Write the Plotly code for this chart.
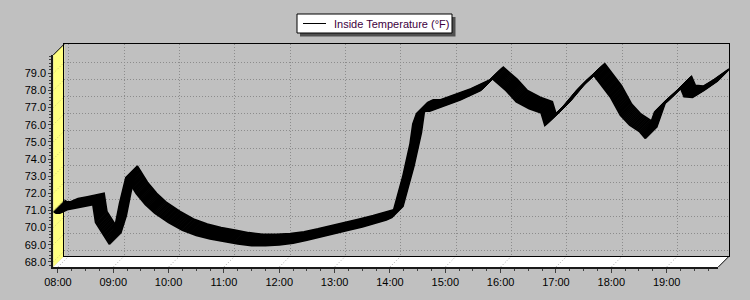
import plotly.graph_objects as go

# ---------------- data ----------------
day = "2024-01-01 "
times = ["07:55", "07:58", "08:02", "08:10", "08:20", "08:30", "08:38", "08:41", "08:56", "09:02",
         "09:07", "09:14", "09:25", "09:35", "09:45", "10:00", "10:15", "10:30", "10:45", "11:00",
         "11:15", "11:30", "11:45", "12:00", "12:15", "12:30", "12:45", "13:00", "13:15", "13:30",
         "13:45", "13:56", "14:02", "14:08", "14:14", "14:22", "14:25", "14:29", "14:35", "14:43",
         "15:01", "15:16", "15:38", "15:51", "16:06", "16:17", "16:31", "16:44", "16:48", "17:05",
         "17:22", "17:41", "17:59", "18:10", "18:20", "18:31", "18:37", "18:47", "19:00", "19:15",
         "19:19", "19:28", "19:40", "19:56"]
temps = [70.95, 70.85, 70.85, 71.05, 71.15, 71.25, 71.35, 70.30, 69.03, 70.05,
         71.40, 72.95, 72.00, 71.35, 70.85, 70.30, 69.85, 69.55, 69.35, 69.20,
         69.05, 68.95, 68.95, 69.00, 69.10, 69.27, 69.45, 69.65, 69.85, 70.05,
         70.30, 70.45, 70.60, 71.80, 72.96, 74.90, 76.05, 76.65, 76.80, 76.80,
         77.15, 77.45, 78.00, 78.70, 78.00, 77.35, 76.95, 76.70, 75.98, 76.85,
         77.95, 78.90, 77.63, 76.56, 75.98, 75.59, 75.20, 76.73, 77.35, 78.16,
         77.65, 77.60, 78.00, 78.60]
x_tick_labels = ["08:00", "09:00", "10:00", "11:00", "12:00", "13:00",
                 "14:00", "15:00", "16:00", "17:00", "18:00", "19:00"]
y_tick_values = [68, 69, 70, 71, 72, 73, 74, 75, 76, 77, 78, 79]
series_name = "Inside Temperature (°F)"

# ---------------- layout geometry ----------------
W, H = 750, 300
F_LEFT, F_RIGHT, F_TOP, F_BOTTOM = 53.3, 718.3, 55.0, 267.0   # front plane (px)
DEPTH = 11                                                    # 3D depth (px)
BG = "#C0C0C0"
FONT = dict(family="Liberation Sans, Arial, sans-serif", size=11, color="black")
LEG_L, LEG_R, LEG_T, LEG_B = 297, 452, 14, 33                 # legend box (px)

X = [day + t for t in times]
x_range = [X[0], X[-1]]
y_range = [67.7, 80.07]


def px(x):
    return x / W


def py(y):
    return 1 - y / H


def domains(k):
    return ([px(F_LEFT + k), px(F_RIGHT + k)], [py(F_BOTTOM - k), py(F_TOP - k)])


fig = go.Figure()
layout = dict(
    width=W, height=H, autosize=False,
    margin=dict(l=0, r=0, t=0, b=0, pad=0),
    paper_bgcolor=BG, plot_bgcolor="rgba(0,0,0,0)",
    font=FONT, showlegend=False,
)

# ribbon copies from back (k=DEPTH, subplot 1 carries the back-wall grid) to front (k=0)
ks = list(range(DEPTH, -1, -1))
n_front = len(ks)
for i, k in enumerate(ks):
    n = i + 1
    sx = "" if n == 1 else str(n)
    dx, dy = domains(k)
    xa = dict(type="date", range=x_range, domain=dx, anchor="y" + sx,
              showgrid=False, zeroline=False, automargin=False)
    ya = dict(range=y_range, domain=dy, anchor="x" + sx,
              showgrid=False, zeroline=False, automargin=False)
    if n == 1:   # back wall: dotted grid + frame
        xa.update(showticklabels=False, ticks="", showgrid=True,
                  gridcolor="#8C8C8C", griddash="1px,2px", gridwidth=1,
                  tickmode="array", tickvals=[day + t for t in x_tick_labels],
                  showline=True, mirror=True, linecolor="black", linewidth=1)
        ya.update(showticklabels=False, ticks="", showgrid=True,
                  gridcolor="#8C8C8C", griddash="1px,2px", gridwidth=1,
                  tickmode="array", tickvals=y_tick_values,
                  showline=True, mirror=True, linecolor="black", linewidth=1)
    elif n == n_front:   # front plane: axes, ticks, labels
        xa.update(showline=True, linecolor="#1A1A1A", linewidth=2,
                  ticks="outside", ticklen=4, tickwidth=1, tickcolor="#404040",
                  tickmode="array", tickvals=[day + t for t in x_tick_labels],
                  ticktext=x_tick_labels, tickfont=FONT,
                  minor=dict(ticks="outside", ticklen=2, tickcolor="#404040",
                             tickmode="linear", tick0=day + "08:00",
                             dtick=15 * 60 * 1000, showgrid=False))
        ya.update(showline=True, linecolor="#1A1A1A", linewidth=2,
                  ticks="outside", ticklen=3, tickwidth=1, tickcolor="#404040",
                  tickmode="array", tickvals=y_tick_values,
                  ticktext=["%.1f" % v for v in y_tick_values], tickfont=FONT,
                  minor=dict(ticks="outside", ticklen=2, tickcolor="#404040",
                             tickmode="linear", tick0=68, dtick=0.2, showgrid=False))
    else:
        xa.update(visible=False)
        ya.update(visible=False)
    layout["xaxis" + sx] = xa
    layout["yaxis" + sx] = ya
    fig.add_trace(go.Scatter(
        x=X, y=temps, mode="lines", name=series_name,
        line=dict(color="black", width=2),
        xaxis="x" + sx, yaxis="y" + sx,
        showlegend=False, hoverinfo="skip"))

FRONT_X = "x%d" % n_front
FRONT_Y = "y%d" % n_front

shapes = []
# left (yellow) wall
shapes.append(dict(type="path", xref="paper", yref="paper", layer="below",
                   path="M %f %f L %f %f L %f %f L %f %f Z" % (
                       px(F_LEFT), py(F_BOTTOM), px(F_LEFT), py(F_TOP),
                       px(F_LEFT + DEPTH), py(F_TOP - DEPTH),
                       px(F_LEFT + DEPTH), py(F_BOTTOM - DEPTH)),
                   fillcolor="#FFFF80", line=dict(width=0)))
# floor (white)
shapes.append(dict(type="path", xref="paper", yref="paper", layer="below",
                   path="M %f %f L %f %f L %f %f L %f %f Z" % (
                       px(F_LEFT), py(F_BOTTOM), px(F_RIGHT), py(F_BOTTOM),
                       px(F_RIGHT + DEPTH), py(F_BOTTOM - DEPTH),
                       px(F_LEFT + DEPTH), py(F_BOTTOM - DEPTH)),
                   fillcolor="white", line=dict(width=0)))
# floor diagonals at hour ticks
for t in x_tick_labels:
    shapes.append(dict(type="line", xref=FRONT_X, xsizemode="pixel", xanchor=day + t,
                       x0=0, x1=DEPTH, yref="paper", y0=py(F_BOTTOM), y1=py(F_BOTTOM - DEPTH),
                       layer="below", line=dict(color="#A8A8A8", width=1, dash="1px,2px")))
# wall diagonals at value ticks
for v in y_tick_values:
    shapes.append(dict(type="line", xref="paper", x0=px(F_LEFT), x1=px(F_LEFT + DEPTH),
                       yref=FRONT_Y, ysizemode="pixel", yanchor=v, y0=0, y1=DEPTH,
                       layer="below", line=dict(color="#C8C870", width=1, dash="1px,2px")))
# black edges
shapes.append(dict(type="line", xref="paper", yref="paper",
                   x0=px(F_LEFT), y0=py(F_TOP), x1=px(F_LEFT + DEPTH), y1=py(F_TOP - DEPTH),
                   line=dict(color="black", width=1)))
shapes.append(dict(type="line", xref="paper", yref="paper",
                   x0=px(F_RIGHT), y0=py(F_BOTTOM), x1=px(F_RIGHT + DEPTH), y1=py(F_BOTTOM - DEPTH),
                   line=dict(color="black", width=1)))
# legend: shadow, box, line sample
shapes.append(dict(type="rect", xref="paper", yref="paper",
                   x0=px(LEG_L + 3), x1=px(LEG_R + 3.5), y0=py(LEG_B + 3.5), y1=py(LEG_T + 3),
                   fillcolor="#505050", line=dict(width=0), layer="above"))
shapes.append(dict(type="rect", xref="paper", yref="paper",
                   x0=px(LEG_L), x1=px(LEG_R), y0=py(LEG_B), y1=py(LEG_T),
                   fillcolor="white", line=dict(color="black", width=1), layer="above"))
shapes.append(dict(type="line", xref="paper", yref="paper",
                   x0=px(LEG_L + 6), x1=px(LEG_L + 29),
                   y0=py((LEG_T + LEG_B) / 2), y1=py((LEG_T + LEG_B) / 2),
                   line=dict(color="black", width=1), layer="above"))

layout["shapes"] = shapes
layout["annotations"] = [dict(
    xref="paper", yref="paper", x=px(LEG_L + 35), y=py((LEG_T + LEG_B) / 2 + 0.5),
    xanchor="left", yanchor="middle", showarrow=False, text=series_name,
    font=dict(family="Liberation Sans, Arial, sans-serif", size=11, color="#400040"))]

fig.update_layout(**layout)
fig.write_html("out.html")
